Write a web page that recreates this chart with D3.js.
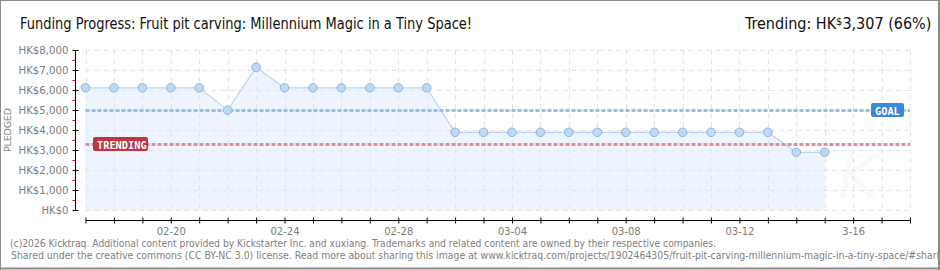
<!DOCTYPE html>
<html>
<head>
<meta charset="utf-8">
<script src="https://cdn.jsdelivr.net/npm/d3@7"></script>
<style>
  html, body { margin: 0; padding: 0; background: #fff; }
  svg { display: block; }
</style>
</head>
<body>
<div id="chart"></div>
<script>

/* Chart data */
var days = ["2026-02-17","2026-02-18","2026-02-19","2026-02-20","2026-02-21","2026-02-22","2026-02-23",
            "2026-02-24","2026-02-25","2026-02-26","2026-02-27","2026-02-28","2026-03-01","2026-03-02",
            "2026-03-03","2026-03-04","2026-03-05","2026-03-06","2026-03-07","2026-03-08","2026-03-09",
            "2026-03-10","2026-03-11","2026-03-12","2026-03-13","2026-03-14","2026-03-15"];
var pledged = [6110, 6110, 6110, 6110, 6110, 4990, 7135,
               6110, 6110, 6110, 6110, 6110, 6110, 3885,
               3885, 3885, 3885, 3885, 3885, 3885, 3885,
               3885, 3885, 3885, 3885, 2885, 2885];
var goal = 5000,
    trending = 3307;
var yTicks = [0, 1000, 2000, 3000, 4000, 5000, 6000, 7000, 8000];
var yMinorTicks = [500, 1500, 2500, 3500, 4500, 5500, 6500, 7500];
var xLabelDays = ["2026-02-20","2026-02-24","2026-02-28","2026-03-04","2026-03-08","2026-03-12","2026-03-16"];
var xLabels = ["02-20","02-24","02-28","03-04","03-08","03-12","3-16"];
var axisStart = "2026-02-17", axisEnd = "2026-03-18";

/* Sizes */
var W = 940, H = 270;
var plotLeft = 85.5, plotRight = 910, plotTop = 50, plotBottom = 210;
var fontFamily = "'DejaVu Sans', Verdana, sans-serif";

var parse = d3.timeParse("%Y-%m-%d");
var data = days.map(function(d, i) { return { date: parse(d), value: pledged[i] }; });

var x = d3.scaleTime()
    .domain([parse(axisStart), parse(axisEnd)])
    .range([plotLeft, plotRight]);

var y = d3.scaleLinear()
    .domain([0, 8000])
    .range([plotBottom, plotTop]);

var svg = d3.select("#chart")
    .append("svg")
    .attr("width", W)
    .attr("height", H);

/* Frame */
svg.append("rect").attr("x", 0).attr("y", 0).attr("width", W).attr("height", H).attr("fill", "#fff");
svg.append("line").attr("x1", 0.5).attr("x2", 0.5).attr("y1", 0).attr("y2", H).attr("stroke", "#8c8c8c");
svg.append("line").attr("x1", 0).attr("x2", W).attr("y1", 0.5).attr("y2", 0.5).attr("stroke", "#8c8c8c");
svg.append("line").attr("x1", 0).attr("x2", W).attr("y1", H - 1.5).attr("y2", H - 1.5).attr("stroke", "#8c8c8c").attr("stroke-width", 2);

/* Watermark */
svg.append("text")
    .attr("x", 858).attr("y", 198)
    .attr("text-anchor", "middle")
    .attr("font-family", fontFamily)
    .attr("font-size", 62)
    .attr("font-style", "italic")
    .attr("fill", "#f9f9f9")
    .text("K");

/* Grid */
var allDays = d3.timeDay.range(parse(axisStart), d3.timeDay.offset(parse(axisEnd), 1));
svg.append("g").selectAll("line")
    .data(yTicks)
    .enter().append("line")
    .attr("x1", plotLeft).attr("x2", plotRight)
    .attr("y1", function(d) { return Math.round(y(d)) + 0.5; })
    .attr("y2", function(d) { return Math.round(y(d)) + 0.5; })
    .attr("stroke", "#e2e2e2")
    .attr("stroke-dasharray", "5,4");

svg.append("g").selectAll("line")
    .data(allDays)
    .enter().append("line")
    .attr("x1", function(d) { return Math.round(x(d)) + 0.5; })
    .attr("x2", function(d) { return Math.round(x(d)) + 0.5; })
    .attr("y1", plotTop).attr("y2", plotBottom)
    .attr("stroke", "#e2e2e2")
    .attr("stroke-dasharray", "5,4");

/* Area + line */
var area = d3.area()
    .x(function(d) { return x(d.date); })
    .y0(y(0))
    .y1(function(d) { return y(d.value); });

var line = d3.line()
    .x(function(d) { return x(d.date); })
    .y(function(d) { return y(d.value); });

svg.append("path")
    .datum(data)
    .attr("d", area)
    .attr("fill", "#dbeafb")
    .attr("fill-opacity", 0.5);

svg.append("path")
    .datum(data)
    .attr("d", line)
    .attr("fill", "none")
    .attr("stroke", "#b9d5f3")
    .attr("stroke-width", 1.2);

/* Goal + trending lines */
function refLine(v, color) {
    svg.append("line")
        .attr("x1", plotLeft).attr("x2", plotRight)
        .attr("y1", Math.round(y(v)) + 0.5).attr("y2", Math.round(y(v)) + 0.5)
        .attr("stroke", color)
        .attr("stroke-width", 3)
        .attr("stroke-dasharray", "4,2");
}
refLine(goal, "#9abde6");
refLine(trending, "#de8f98");

/* Points */
svg.append("g").selectAll("circle")
    .data(data)
    .enter().append("circle")
    .attr("cx", function(d) { return x(d.date); })
    .attr("cy", function(d) { return y(d.value); })
    .attr("r", 4.3)
    .attr("fill", "#bcd9f6")
    .attr("stroke", "#93b3d8")
    .attr("stroke-width", 1);

/* Tags */
function tag(cx, v, label, color, w) {
    var cy = Math.round(y(v)) + 0.5;
    svg.append("rect")
        .attr("x", cx).attr("y", cy - 7.5)
        .attr("width", w).attr("height", 14)
        .attr("rx", 2)
        .attr("fill", color);
    svg.append("text")
        .attr("x", cx + 4).attr("y", cy + 4)
        .attr("font-family", "'DejaVu Sans Mono', monospace")
        .attr("font-size", 10)
        .attr("font-weight", "bold")
        .attr("fill", "#fff")
        .attr("textLength", label.length * 6.2)
        .attr("lengthAdjust", "spacingAndGlyphs")
        .text(label);
}
tag(871, goal, "GOAL", "#3c88d6", 33);
tag(93, trending, "TRENDING", "#bd3541", 55);

/* Y axis */
var yAxisG = svg.append("g")
    .attr("transform", "translate(75.5,0)")
    .call(d3.axisLeft(y)
        .tickValues(yTicks)
        .tickSize(3)
        .tickPadding(4)
        .tickFormat(function(d) { return "HK$" + d3.format(",")(d); }));
yAxisG.select(".domain").remove();
yAxisG.selectAll(".tick line").attr("x1", 3).attr("x2", -3).attr("stroke", "#000");
yAxisG.selectAll(".tick text")
    .attr("font-family", fontFamily)
    .attr("font-size", 10)
    .attr("fill", "#7c7c7c")
    .attr("textLength", function(d) { return d ? 50 : 27; })
    .attr("lengthAdjust", "spacingAndGlyphs");

var yMinorG = svg.append("g")
    .attr("transform", "translate(75.5,0)")
    .call(d3.axisLeft(y).tickValues(yMinorTicks).tickSize(3).tickFormat(""));
yMinorG.select(".domain").remove();
yMinorG.selectAll(".tick line").attr("stroke", "#e00000");

svg.append("line")
    .attr("x1", 75.5).attr("x2", 75.5)
    .attr("y1", plotTop).attr("y2", plotBottom + 0.5)
    .attr("stroke", "#000");

svg.append("text")
    .attr("transform", "translate(10.5,130) rotate(-90)")
    .attr("text-anchor", "middle")
    .attr("font-family", fontFamily)
    .attr("font-size", 9.5)
    .attr("fill", "#7c7c7c")
    .attr("textLength", 44)
    .attr("lengthAdjust", "spacing")
    .text("PLEDGED");

/* X axis */
var labelMap = {};
xLabelDays.forEach(function(d, i) { labelMap[+parse(d)] = xLabels[i]; });

var xAxisG = svg.append("g")
    .attr("transform", "translate(0,220.5)")
    .call(d3.axisBottom(x)
        .tickValues(allDays)
        .tickSize(3)
        .tickPadding(4)
        .tickFormat(function(d) { return labelMap[+d] || ""; }));
xAxisG.select(".domain").remove();
xAxisG.selectAll(".tick line").attr("y1", -3).attr("y2", 3).attr("stroke", "#000");
xAxisG.selectAll(".tick text")
    .attr("font-family", fontFamily)
    .attr("font-size", 10)
    .attr("fill", "#7c7c7c");
xAxisG.append("line")
    .attr("x1", plotLeft).attr("x2", plotRight)
    .attr("stroke", "#000");

/* Titles */
svg.append("text")
    .attr("x", 20).attr("y", 29)
    .attr("font-family", "'DejaVu Sans Condensed', 'Liberation Sans Narrow', sans-serif")
    .attr("font-size", 16)
    .attr("fill", "#111")
    .attr("textLength", 452)
    .attr("lengthAdjust", "spacingAndGlyphs")
    .text("Funding Progress: Fruit pit carving: Millennium Magic in a Tiny Space!");

var tr = svg.append("text")
    .attr("x", 745).attr("y", 29)
    .attr("font-family", "'DejaVu Sans Condensed', 'Liberation Sans Narrow', sans-serif")
    .attr("font-size", 16)
    .attr("fill", "#111");
tr.append("tspan").text("Trending: HK");
tr.append("tspan").attr("font-size", 11).attr("dy", -4).text("$");
tr.append("tspan").attr("dy", 4).text("3,307 (66%)");

/* Footer */
var footer = [
    "(c)2026 Kicktraq. Additional content provided by Kickstarter Inc. and xuxiang. Trademarks and related content are owned by their respective companies.",
    "Shared under the creative commons (CC BY-NC 3.0) license. Read more about sharing this image at www.kicktraq.com/projects/1902464305/fruit-pit-carving-millennium-magic-in-a-tiny-space/#sharing"
];
var footerLen = [706, 940];
svg.append("g").selectAll("text")
    .data(footer)
    .enter().append("text")
    .attr("x", function(d, i) { return i ? 11 : 10; })
    .attr("y", function(d, i) { return 247 + i * 12; })
    .attr("font-family", fontFamily)
    .attr("font-size", 10.5)
    .attr("fill", "#808080")
    .attr("textLength", function(d, i) { return footerLen[i]; })
    .attr("lengthAdjust", "spacingAndGlyphs")
    .text(function(d) { return d; });

/* right frame drawn last, over the clipped footer */
svg.append("rect").attr("x", W - 2).attr("y", 0).attr("width", 2).attr("height", H).attr("fill", "#8c8c8c");

</script>
</body>
</html>
